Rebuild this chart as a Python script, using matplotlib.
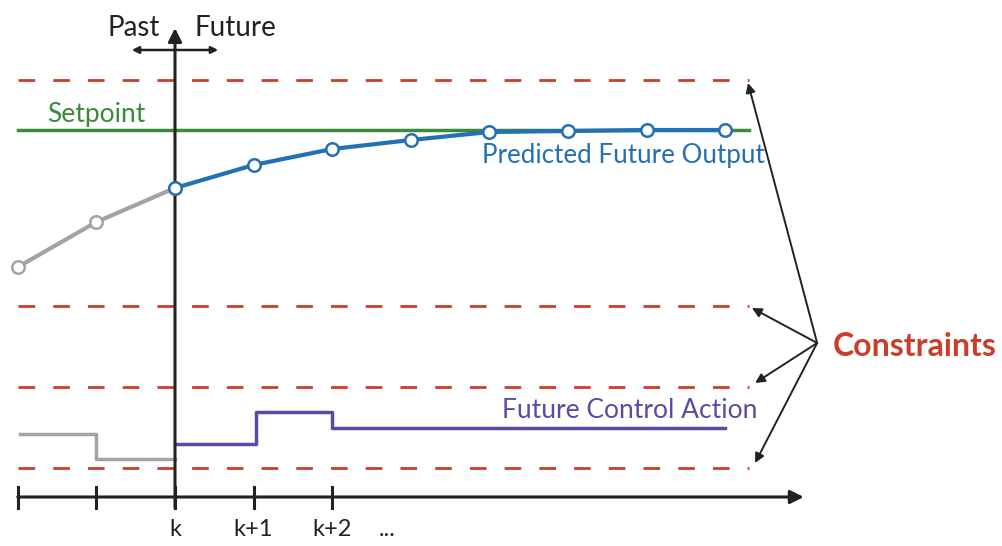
import numpy as np
import matplotlib.pyplot as plt

plt.rcParams['font.family'] = ['Lato', 'DejaVu Sans']

# time steps (k = 0)
past_steps = [-2, -1, 0]
future_steps = [0, 1, 2, 3, 4, 5, 6, 7]
tick_steps = [-2, -1, 0, 1, 2]
tick_labels = ['', '', 'k', 'k+1', 'k+2']

# output values (height above time axis)
past_output = [230, 275, 309]
predicted_output = [309, 332, 348, 357, 365, 366, 367, 367]
setpoint = 367

# control action (step signals)
past_control_steps = [-1.97, -1, 0]
past_control = [63, 38, 38]
future_control_steps = [0, 1.03, 2, 7]
future_control = [53, 85, 69, 69]

constraint_levels = [417, 191, 110, 29]

GRAY = '#a3a3a3'
BLUE = '#2370b5'
GREEN = '#3a8a3c'
PURPLE = '#5a4ca0'
RED = '#c9402a'
DARK = '#222222'

fig = plt.figure(figsize=(10.03, 5.46), dpi=100)
ax = fig.add_axes([0, 0, 1, 1])
step_px = 78.6
ax.set_xlim(-175 / step_px, (1003 - 175) / step_px)
ax.set_ylim(-49, 497)
ax.set_axis_off()

x_end = 7.3

# constraints
for c in constraint_levels:
    ax.plot([-2, x_end], [c, c], color=RED, lw=2, dashes=(6, 6.5), zorder=1)

# setpoint
ax.plot([-2, x_end], [setpoint, setpoint], color=GREEN, lw=2.5, zorder=2)
ax.text(-1.63, 375, 'Setpoint', color=GREEN, fontsize=19, ha='left', va='baseline')

# time axis
ax.annotate('', xy=(8.0, 0), xytext=(-2, 0),
            arrowprops=dict(arrowstyle='-|>', color=DARK, lw=2.2,
                            mutation_scale=20, shrinkA=0, shrinkB=0))
for t in tick_steps:
    ax.plot([t, t], [-11, 10], color=DARK, lw=2.2)
for t, lab in zip(tick_steps, tick_labels):
    ax.text(t, -22, lab, color=DARK, fontsize=17, ha='center', va='top')
ax.text(2.7, -22, '...', color=DARK, fontsize=17, ha='center', va='top')

# vertical "now" axis
ax.annotate('', xy=(0, 469), xytext=(0, -11),
            arrowprops=dict(arrowstyle='-|>', color=DARK, lw=2.2,
                            mutation_scale=20, shrinkA=0, shrinkB=0))
ax.annotate('', xy=(-0.55, 447), xytext=(0.55, 447),
            arrowprops=dict(arrowstyle='<|-|>', color=DARK, lw=1.8,
                            mutation_scale=10, shrinkA=0, shrinkB=0))
ax.text(-0.19, 469, 'Past', color=DARK, fontsize=20, ha='right', va='center')
ax.text(0.25, 469, 'Future', color=DARK, fontsize=20, ha='left', va='center')

# outputs
ax.plot(past_steps, past_output, color=GRAY, lw=3, zorder=3,
        marker='o', ms=9, mfc='white', mec=GRAY, mew=1.8)
ax.plot(future_steps, predicted_output, color=BLUE, lw=3, zorder=4,
        marker='o', ms=9, mfc='white', mec=BLUE, mew=1.8)
ax.text(3.9, 342, 'Predicted Future Output', color=BLUE, fontsize=18.7,
        ha='left', va='center')

# control actions
ax.step(past_control_steps, past_control, where='post', color=GRAY, lw=2.5)
ax.step(future_control_steps, future_control, where='post', color=PURPLE, lw=2.5)
ax.text(4.16, 87, 'Future Control Action', color=PURPLE, fontsize=19,
        ha='left', va='center')

# constraints label and arrows
ax.text(8.37, 150, 'Constraints', color=RED, fontsize=23, fontweight='bold',
        ha='left', va='center')
origin = (8.17, 154)
targets = [(7.29, 414), (7.34, 189), (7.38, 114), (7.38, 34)]
for tx, ty in targets:
    ax.annotate('', xy=(tx, ty), xytext=origin,
                arrowprops=dict(arrowstyle='-|>', color=DARK, lw=1.4,
                                mutation_scale=14, shrinkA=0, shrinkB=0))

fig.savefig('out.png', dpi=100)
